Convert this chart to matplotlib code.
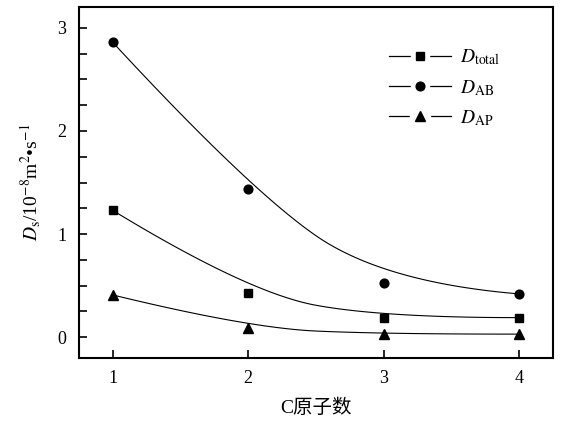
import numpy as np
import matplotlib
matplotlib.use("Agg")
from matplotlib import pyplot as plt
from matplotlib.ticker import MultipleLocator
from matplotlib.lines import Line2D
from matplotlib.legend_handler import HandlerTuple

plt.rcParams['font.family'] = ['Liberation Serif', 'Noto Sans CJK SC']
plt.rcParams['mathtext.fontset'] = 'stix'

# data
carbon = [1, 2, 3, 4]
d_total = [1.23, 0.43, 0.19, 0.19]
d_ab = [2.86, 1.44, 0.53, 0.42]
d_ap = [0.41, 0.09, 0.03, 0.03]

labels = [r'$D_{\mathrm{total}}$', r'$D_{\mathrm{AB}}$', r'$D_{\mathrm{AP}}$']
markers = ['s', 'o', '^']
sizes = [5.5, 6.3, 6.8]


# quadratic clamped B-spline through the data as control points
def bspline2(x, y, n=60):
    p = np.column_stack([x, y]).astype(float)
    m = len(p)
    out = []
    s = np.linspace(0, 1, n)[:, None]
    for i in range(m - 2):
        a = p[0] if i == 0 else (p[i] + p[i + 1]) / 2
        b = p[i + 1]
        c = p[-1] if i == m - 3 else (p[i + 1] + p[i + 2]) / 2
        out.append((1 - s) ** 2 * a + 2 * s * (1 - s) * b + s ** 2 * c)
    out = np.vstack(out)
    return out[:, 0], out[:, 1]


fig = plt.figure(figsize=(5.63, 4.21), dpi=100)
ax = fig.add_axes([0.140, 0.150, 0.842, 0.833])

handles = []
for (ys, lab, m, ms) in zip([d_total, d_ab, d_ap], labels, markers, sizes):
    cx, cy = bspline2(carbon, ys)
    ax.plot(cx, cy, color='black', lw=0.8)
    ax.plot(carbon, ys, linestyle='none', marker=m, color='black', markersize=ms)
    # legend: line broken around the marker
    gap = Line2D([], [], color='black', lw=0.9, marker='s', markersize=ms + 7,
                 markerfacecolor='white', markeredgecolor='white')
    mk = Line2D([], [], linestyle='none', marker=m, color='black', markersize=ms)
    handles.append((gap, mk))

ax.set_xlim(0.75, 4.25)
ax.set_ylim(-0.2, 3.2)
ax.set_xticks(carbon)
ax.yaxis.set_major_locator(MultipleLocator(1))
ax.yaxis.set_minor_locator(MultipleLocator(0.25))
ax.tick_params(direction='in', labelsize=13, length=6, width=1.2, pad=9)
ax.tick_params(which='minor', direction='in', length=6, width=1.2)
ax.tick_params(axis='x', pad=9)
for s in ax.spines.values():
    s.set_linewidth(1.5)

ax.set_xlabel('C原子数', fontsize=14, labelpad=8)
ax.set_ylabel(r'$D_{\mathrm{s}}$/10$^{-8}$m$^{2}$•s$^{-1}$', fontsize=14, labelpad=10)

ax.legend(handles, labels, handler_map={tuple: HandlerTuple(ndivide=1)},
          loc='upper right', frameon=False, fontsize=14,
          handlelength=3.2, handletextpad=0.45, labelspacing=0.55,
          bbox_to_anchor=(0.925, 0.935))

fig.savefig('out.png', dpi=100)
